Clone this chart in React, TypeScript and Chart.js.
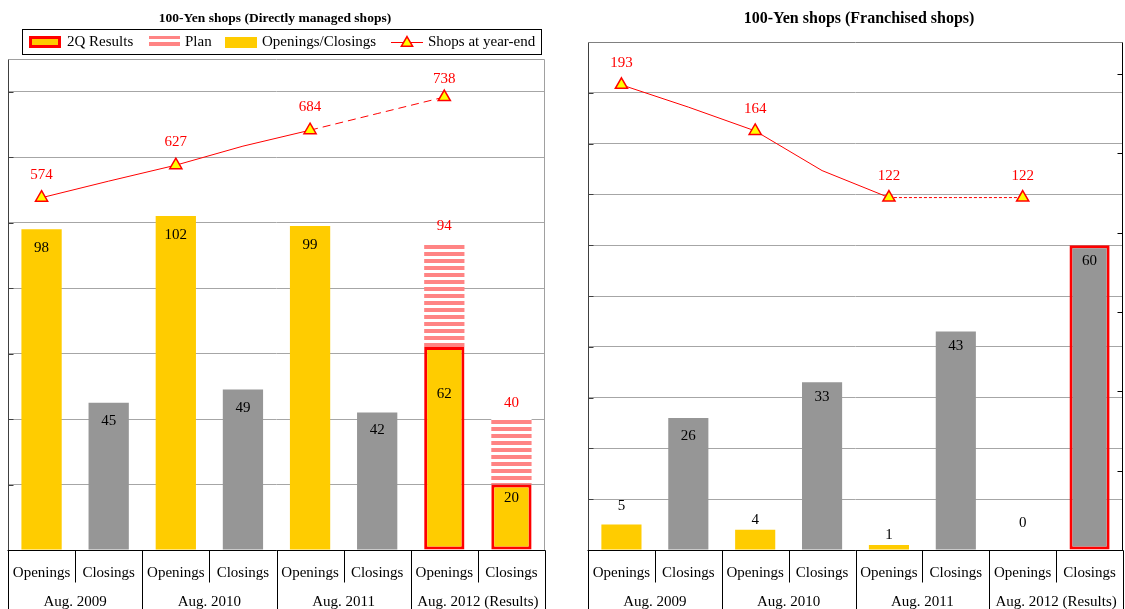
import React, { useEffect, useRef } from 'react';
import { Chart, registerables } from 'chart.js';

Chart.register(...registerables);

// ---------------- data ----------------
const categories = ['Openings', 'Closings', 'Openings', 'Closings', 'Openings', 'Closings', 'Openings', 'Closings'];
const periods = ['Aug. 2009', 'Aug. 2010', 'Aug. 2011', 'Aug. 2012 (Results)'];
const legendLabels = ['2Q Results', 'Plan', 'Openings/Closings', 'Shops at year-end'];

const directTitle = '100-Yen shops (Directly managed shops)';
const directBars = [98, 45, 102, 49, 99, 42, 62, 20];
const directPlan = [null, null, null, null, null, null, 94, 40];
const directYearEnd = [574, 627, 684, 738];
const directMidLine = [601, 658, 711];
const directBarTicks = [0, 20, 40, 60, 80, 100, 120, 140];
const directBarMax = 150;
const directShopsMin = 0;
const directShopsMax = 800;

const franchiseTitle = '100-Yen shops (Franchised shops)';
const franchiseBars = [5, 26, 4, 33, 1, 43, 0, 60];
const franchisePlan = [null, null, null, null, null, null, null, null];
const franchiseYearEnd = [193, 164, 122, 122];
const franchiseMidLine = [179, 139, 122];
const franchiseBarTicks = [0, 10, 20, 30, 40, 50, 60, 70, 80, 90];
const franchiseBarMax = 100;
const franchiseShopsMin = -100;
const franchiseShopsMax = 220;
const franchiseShopsTicks = [-100, -50, 0, 50, 100, 150, 200];

// ---------------- style ----------------
const FONT = "'Liberation Serif', 'Times New Roman', serif";
const YELLOW = '#FFCC00';
const GRAY = '#969696';
const RED = '#FF0000';
const PINK = '#FF8484';
const MARKER = '#FFFF00';
const GRID = '#A6A6A6';
const CANVAS_H = 620;

type Cfg = {
  key: string;
  width: number;
  left: number;
  padding: { left: number; right: number; top: number; bottom: number };
  title: string;
  titleFont: number;
  titleX: number;
  bars: number[];
  plan: (number | null)[];
  yearEnd: number[];
  midLine: number[];
  barColors: string[];
  resultIdx: number[];
  barMax: number;
  barTicks: number[];
  shopsMin: number;
  shopsMax: number;
  shopsTicks: number[] | null;
  barLabelDy: number[];
  planLabelDy: number;
  lineLabelDy: number[];
  dashFrom: number;
  dash: number[];
  frameTop: string;
  frameRight: string;
  legend: boolean;
};

const directCfg: Cfg = {
  key: 'direct',
  width: 560,
  left: 0,
  padding: { left: 8, right: 15, top: 59, bottom: CANVAS_H - 550 },
  title: directTitle,
  titleFont: 13.5,
  titleX: 275,
  bars: directBars,
  plan: directPlan,
  yearEnd: directYearEnd,
  midLine: directMidLine,
  barColors: [YELLOW, GRAY, YELLOW, GRAY, YELLOW, GRAY, YELLOW, YELLOW],
  resultIdx: [6, 7],
  barMax: directBarMax,
  barTicks: directBarTicks,
  shopsMin: directShopsMin,
  shopsMax: directShopsMax,
  shopsTicks: null,
  barLabelDy: [19, 18, 19, 18, 19, 18, 47, 14],
  planLabelDy: -16,
  lineLabelDy: [-23, -23, -23, -18],
  dashFrom: 4,
  dash: [8, 5],
  frameTop: '#A0A0A0',
  frameRight: '#A0A0A0',
  legend: true,
};

const franchiseCfg: Cfg = {
  key: 'franchise',
  width: 565,
  left: 560,
  padding: { left: 28, right: 2, top: 42, bottom: CANVAS_H - 550 },
  title: franchiseTitle,
  titleFont: 16,
  titleX: 299,
  bars: franchiseBars,
  plan: franchisePlan,
  yearEnd: franchiseYearEnd,
  midLine: franchiseMidLine,
  barColors: [YELLOW, GRAY, YELLOW, GRAY, YELLOW, GRAY, YELLOW, GRAY],
  resultIdx: [7],
  barMax: franchiseBarMax,
  barTicks: franchiseBarTicks,
  shopsMin: franchiseShopsMin,
  shopsMax: franchiseShopsMax,
  shopsTicks: franchiseShopsTicks,
  barLabelDy: [-19, 18, -10, 15, -10, 15, -27, 16],
  planLabelDy: -16,
  lineLabelDy: [-22, -22, -22, -22],
  dashFrom: 4,
  dash: [3, 2],
  frameTop: '#808080',
  frameRight: '#000000',
  legend: false,
};

function buildLine(yearEnd: number[], mid: number[], n: number) {
  const out: (number | null)[] = [];
  yearEnd.forEach((v, k) => {
    out.push(v);
    if (k < mid.length) out.push(mid[k]);
  });
  while (out.length < n) out.push(null);
  return out;
}

function seg(ctx: CanvasRenderingContext2D, x1: number, y1: number, x2: number, y2: number) {
  ctx.beginPath();
  ctx.moveTo(x1, y1);
  ctx.lineTo(x2, y2);
  ctx.stroke();
}

function triangle(ctx: CanvasRenderingContext2D, x: number, y: number, r: number) {
  let rad = 0;
  const T = (2 * Math.PI) / 3;
  ctx.beginPath();
  ctx.moveTo(x + Math.sin(rad) * r, y - Math.cos(rad) * r);
  rad += T;
  ctx.lineTo(x + Math.sin(rad) * r, y - Math.cos(rad) * r);
  rad += T;
  ctx.lineTo(x + Math.sin(rad) * r, y - Math.cos(rad) * r);
  ctx.closePath();
  ctx.fillStyle = MARKER;
  ctx.fill();
  ctx.strokeStyle = RED;
  ctx.lineWidth = 1.5;
  ctx.stroke();
}

function decorPlugin(cfg: Cfg, stripes: CanvasPattern) {
  return {
    id: 'decor_' + cfg.key,
    afterDraw(chart: any) {
      const ctx: CanvasRenderingContext2D = chart.ctx;
      const ca = chart.chartArea;
      const xs = chart.scales.x;
      const ys = chart.scales.y;
      const y1 = chart.scales.y1;
      const L = Math.round(ca.left) + 0.5;
      const R = Math.round(ca.right) - 0.5;
      const T = Math.round(ca.top) + 0.5;
      const B = Math.round(ca.bottom) + 0.5;
      ctx.save();
      ctx.lineWidth = 1;

      // frame
      ctx.strokeStyle = cfg.frameTop;
      seg(ctx, L, T, R, T);
      ctx.strokeStyle = cfg.frameRight;
      seg(ctx, R, T, R, B);
      ctx.strokeStyle = '#404040';
      seg(ctx, L, T, L, B);
      // inside tick marks (left axis)
      cfg.barTicks.forEach((v) => {
        if (v <= 0) return;
        const py = Math.round(ys.getPixelForValue(v)) + 0.5;
        seg(ctx, L, py, L + 5, py);
      });
      // inside tick marks (right axis)
      if (cfg.shopsTicks) {
        ctx.strokeStyle = '#000000';
        cfg.shopsTicks.forEach((v) => {
          const py = Math.round(y1.getPixelForValue(v)) + 0.5;
          seg(ctx, R - 5, py, R, py);
        });
      }
      // x axis line
      ctx.strokeStyle = '#000000';
      seg(ctx, L - 1, B, R + 1, B);

      // category separators
      const n = categories.length;
      const px = (i: number) => xs.getPixelForValue(i);
      const half = (px(1) - px(0)) / 2;
      for (let i = 0; i <= n; i++) {
        const bx = Math.round(i < n ? px(i) - half : px(n - 1) + half) + 0.5;
        const bottom = i % 2 === 0 ? CANVAS_H : B + 32;
        seg(ctx, bx, B, bx, bottom);
      }
      // category and period labels
      ctx.fillStyle = '#000000';
      ctx.font = `15px ${FONT}`;
      ctx.textAlign = 'center';
      ctx.textBaseline = 'middle';
      categories.forEach((c, i) => ctx.fillText(c, px(i), B + 23));
      periods.forEach((p, g) => ctx.fillText(p, (px(2 * g) + px(2 * g + 1)) / 2, B + 52));

      // bar value labels
      const barMeta = chart.getDatasetMeta(0);
      barMeta.data.forEach((el: any, i: number) => {
        const v = cfg.bars[i];
        if (v == null) return;
        ctx.fillStyle = '#000000';
        ctx.fillText(String(v), el.x, el.y + cfg.barLabelDy[i]);
      });
      // plan labels
      const planMeta = chart.getDatasetMeta(1);
      planMeta.data.forEach((el: any, i: number) => {
        const v = cfg.plan[i];
        if (v == null) return;
        ctx.fillStyle = RED;
        ctx.fillText(String(v), el.x, el.y + cfg.planLabelDy);
      });
      // line labels
      const lineMeta = chart.getDatasetMeta(2);
      cfg.yearEnd.forEach((v, k) => {
        const el = lineMeta.data[2 * k];
        if (!el) return;
        ctx.fillStyle = RED;
        ctx.fillText(String(v), el.x, el.y + cfg.lineLabelDy[k]);
      });

      // title
      ctx.fillStyle = '#000000';
      ctx.font = `bold ${cfg.titleFont}px ${FONT}`;
      ctx.fillText(cfg.title, cfg.titleX, 19);

      // legend
      if (cfg.legend) {
        ctx.strokeStyle = '#000000';
        ctx.lineWidth = 1;
        ctx.strokeRect(22.5, 29.5, 519, 25);
        ctx.font = `15px ${FONT}`;
        ctx.textAlign = 'left';
        ctx.textBaseline = 'middle';
        // 2Q Results
        ctx.fillStyle = RED;
        ctx.fillRect(29, 36, 32, 12);
        ctx.fillStyle = YELLOW;
        ctx.fillRect(32, 39, 26, 6);
        ctx.fillStyle = '#000000';
        ctx.fillText(legendLabels[0], 67, 42);
        // Plan
        ctx.fillStyle = stripes;
        ctx.fillRect(149, 36, 31, 11);
        ctx.fillStyle = '#000000';
        ctx.fillText(legendLabels[1], 185, 42);
        // Openings/Closings
        ctx.fillStyle = YELLOW;
        ctx.fillRect(225, 37, 32, 11);
        ctx.fillStyle = '#000000';
        ctx.fillText(legendLabels[2], 262, 42);
        // Shops at year-end
        ctx.strokeStyle = RED;
        ctx.lineWidth = 1;
        seg(ctx, 391, 42.5, 423, 42.5);
        triangle(ctx, 407, 43, 6.5);
        ctx.fillStyle = '#000000';
        ctx.fillText(legendLabels[3], 428, 42);
      }
      ctx.restore();
    },
  };
}

function buildChart(canvas: HTMLCanvasElement, cfg: Cfg) {
  const ctx2d = canvas.getContext('2d')!;
  const pc = document.createElement('canvas');
  pc.width = 4;
  pc.height = 7;
  const p = pc.getContext('2d')!;
  p.fillStyle = '#FFFFFF';
  p.fillRect(0, 0, 4, 7);
  p.fillStyle = PINK;
  p.fillRect(0, 0, 4, 4);
  const stripes = ctx2d.createPattern(pc, 'repeat')!;

  const n = categories.length;
  const lineData = buildLine(cfg.yearEnd, cfg.midLine, n);
  const markerRadius = lineData.map((v, i) => (i % 2 === 0 && v != null ? 7 : 0));
  const planData = cfg.plan.map((pv, i) => (pv == null ? null : [cfg.bars[i], pv]));
  const borderWidths = cfg.bars.map((_, i) => (cfg.resultIdx.includes(i) ? 3 : 0));

  return new Chart(canvas, {
    type: 'bar',
    data: {
      labels: categories,
      datasets: [
        {
          type: 'bar',
          label: legendLabels[2],
          data: cfg.bars,
          backgroundColor: cfg.barColors,
          borderColor: RED,
          borderWidth: borderWidths,
          borderSkipped: false,
          barPercentage: 0.6,
          categoryPercentage: 1,
          yAxisID: 'y',
          order: 1,
        } as any,
        {
          type: 'bar',
          label: legendLabels[1],
          data: planData,
          backgroundColor: stripes,
          borderWidth: 0,
          barPercentage: 0.6,
          categoryPercentage: 1,
          yAxisID: 'y',
          order: 2,
        } as any,
        {
          type: 'line',
          label: legendLabels[3],
          data: lineData,
          yAxisID: 'y1',
          borderColor: RED,
          borderWidth: 1,
          tension: 0,
          pointStyle: 'triangle',
          pointRadius: markerRadius,
          pointBackgroundColor: MARKER,
          pointBorderColor: RED,
          pointBorderWidth: 1.5,
          spanGaps: false,
          order: 0,
          clip: false,
          segment: {
            borderDash: (c: any) => (c.p0DataIndex >= cfg.dashFrom ? cfg.dash : undefined),
          },
        } as any,
      ],
    },
    options: {
      animation: false,
      responsive: false,
      maintainAspectRatio: false,
      devicePixelRatio: 1,
      events: [],
      layout: { padding: cfg.padding, autoPadding: false },
      plugins: {
        legend: { display: false },
        tooltip: { enabled: false },
        title: { display: false },
      },
      scales: {
        x: {
          type: 'category',
          display: false,
          stacked: true,
          offset: true,
        },
        y: {
          type: 'linear',
          position: 'left',
          min: 0,
          max: cfg.barMax,
          stacked: false,
          display: true,
          ticks: { display: false },
          grid: { color: GRID, lineWidth: 1, drawTicks: false },
          border: { display: false },
          afterBuildTicks: (scale: any) => {
            scale.ticks = cfg.barTicks.map((v) => ({ value: v }));
          },
        },
        y1: {
          type: 'linear',
          position: 'right',
          min: cfg.shopsMin,
          max: cfg.shopsMax,
          stacked: false,
          display: false,
          grid: { drawOnChartArea: false },
        },
      },
    } as any,
    plugins: [decorPlugin(cfg, stripes)],
  });
}

function Panel({ cfg }: { cfg: Cfg }) {
  const ref = useRef<HTMLCanvasElement>(null);
  useEffect(() => {
    const canvas = ref.current;
    if (!canvas) return;
    const chart = buildChart(canvas, cfg);
    return () => chart.destroy();
  }, [cfg]);
  return (
    <canvas
      ref={ref}
      width={cfg.width}
      height={CANVAS_H}
      style={{ position: 'absolute', left: cfg.left, top: 0, width: cfg.width, height: CANVAS_H }}
    />
  );
}

export default function App() {
  return (
    <div
      style={{
        position: 'fixed',
        left: 0,
        top: 0,
        width: 1125,
        height: 609,
        overflow: 'hidden',
        background: '#FFFFFF',
      }}
    >
      <Panel cfg={directCfg} />
      <Panel cfg={franchiseCfg} />
    </div>
  );
}
